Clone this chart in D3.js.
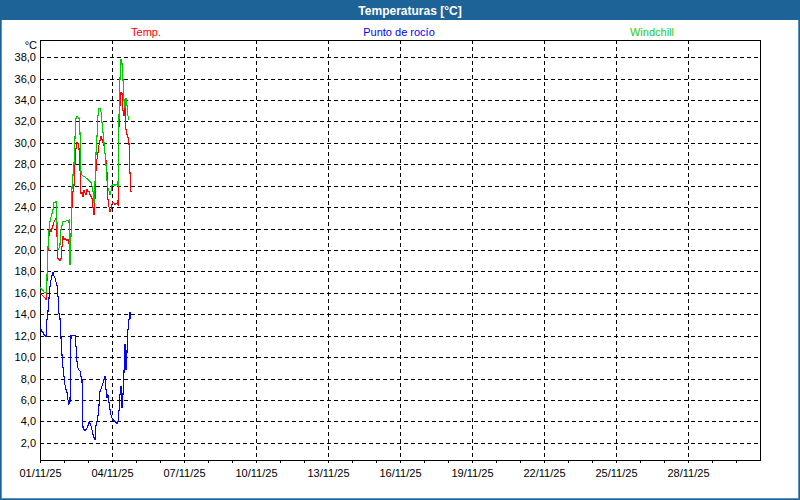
<!DOCTYPE html>
<html>
<head>
<meta charset="utf-8">
<script src="https://cdn.jsdelivr.net/npm/d3@7"></script>
<style>
  html, body { margin: 0; padding: 0; background: #fff; }
  svg { display: block; }
  text { font-family: "Liberation Sans", Arial, sans-serif; }
</style>
</head>
<body>
<svg id="chart" width="800" height="500"></svg>
<script>
// ---- data (hourly readings starting 01/11/25 00:00) ----
const startTime = new Date(2025, 10, 1, 0, 0);
const tempValues = [
  16.0, 15.9, 15.8, 15.7, 15.6, 15.5, 15.4, 17.2, 20.0, 21.4,
  21.9, 21.7, 22.0, 22.3, 22.6, 22.8, 23.0, 21.4, 19.2, 19.1,
  19.0, 19.2, 20.3, 21.3, 21.0, 21.1, 21.0, 20.9, 21.0, 20.7,
  18.6, 21.3, 24.0, 25.5, 26.0, 28.0, 29.5, 30.0, 30.0, 29.5,
  27.5, 25.2, 25.4, 25.0, 25.6, 25.3, 25.2, 25.7, 25.4, 25.5,
  25.2, 25.0, 24.8, 24.0, 23.3, 24.8, 27.5, 28.5, 29.1, 29.8,
  30.2, 30.6, 30.3, 30.0, 29.7, 29.0, 28.4, 27.2, 24.7, 24.0,
  23.6, 23.8, 24.3, 24.5, 24.4, 24.2, 24.4, 24.3, 24.2, 31.8,
  33.5, 34.7, 34.6, 33.0, 32.5, 34.0, 31.2, 30.8, 30.5, 30.0,
  27.2, 25.4
];
const dewValues = [
  12.8, 12.6, 12.4, 12.3, 12.1, 12.0, 11.9, 13.5, 14.3, 15.5,
  16.6, 17.2, 17.6, 17.9, 17.6, 17.4, 17.0, 16.7, 15.7, 14.1,
  13.6, 11.8, 10.2, 9.0, 8.2, 7.4, 7.0, 6.7, 6.0, 5.6,
  5.8, 12.0, 12.0, 12.0, 12.0, 12.0, 11.0, 9.6, 9.0, 8.8,
  8.7, 8.2, 7.9, 3.4, 3.2, 3.2, 3.2, 3.4, 3.6, 3.9,
  3.8, 3.6, 3.2, 2.8, 2.5, 2.3, 3.6, 4.0, 4.5, 5.5,
  6.8, 7.0, 7.3, 7.6, 7.9, 8.2, 7.0, 6.2, 6.5, 5.8,
  5.1, 4.6, 4.3, 4.2, 4.1, 4.0, 3.9, 3.8, 4.0, 5.0,
  6.5, 7.3, 5.3, 6.5, 8.6, 11.2, 8.8, 10.5, 12.6, 13.5,
  14.2, 13.6
];
const windchillValues = [
  16.5, 16.4, 16.3, 16.2, 16.1, 16.0, 16.0, 17.5, 20.3, 21.8,
  22.7, 23.1, 23.4, 23.8, 24.4, 24.4, 24.5, 22.5, 20.0, 20.2,
  20.5, 21.9, 22.3, 22.7, 22.6, 22.7, 22.7, 22.8, 22.7, 22.8,
  18.6, 21.3, 25.9, 27.0, 28.0, 30.5, 32.3, 32.5, 32.4, 32.3,
  31.0, 27.2, 27.0, 26.9, 26.9, 26.8, 26.7, 26.7, 26.6, 26.5,
  26.4, 26.3, 26.0, 25.5, 24.4, 26.2, 29.0, 30.6, 32.6, 33.2,
  33.2, 32.9, 31.9, 31.0, 30.0, 29.0, 28.0, 26.5, 25.8, 25.5,
  25.2, 25.5, 26.0, 26.1, 26.1, 26.0, 26.1, 26.1, 26.0, 32.5,
  36.0, 37.8, 37.4, 35.9, 34.0, 33.3, 34.2, 33.5, 32.5, 32.1
];
const seriesNames = ["Temp.", "Punto de rocío", "Windchill"];
const yTickValues = [2, 4, 6, 8, 10, 12, 14, 16, 18, 20, 22, 24, 26, 28, 30, 32, 34, 36, 38];
const xLabelDays = [1, 4, 7, 10, 13, 16, 19, 22, 25, 28];
const titleText = "Temperaturas [°C]";
const unitText = "°C";

// ---- layout ----
const W = 800, H = 500;
const plot = { left: 40, right: 760, top: 40, bottom: 460 };
const colors = { temp: "#ff0000", dew: "#0000ff", wind: "#00c800" };

const svg = d3.select("#chart");

// frame / title bar
svg.append("rect").attr("x", 0).attr("y", 0).attr("width", W).attr("height", H).attr("fill", "#fff");
svg.append("rect").attr("x", 0.5).attr("y", 0.5).attr("width", W - 1).attr("height", H - 1)
  .attr("fill", "none").attr("stroke", "#1e6398").attr("stroke-width", 1);
svg.append("rect").attr("x", 1.5).attr("y", 1.5).attr("width", W - 3).attr("height", H - 3)
  .attr("fill", "none").attr("stroke", "#5a8fbf").attr("stroke-width", 1);
svg.append("rect").attr("x", 0).attr("y", 0).attr("width", W).attr("height", 20).attr("fill", "#1e6398");
svg.append("text").attr("x", 410).attr("y", 15).attr("text-anchor", "middle")
  .attr("fill", "#fff").attr("font-weight", "bold").attr("font-size", 12).text(titleText);

// scales
const x = d3.scaleTime()
  .domain([new Date(2025, 10, 1), new Date(2025, 11, 1)])
  .range([plot.left, plot.right]);
const y = d3.scaleLinear().domain([0.4, 39.6]).range([plot.bottom, plot.top]);

// grid
const grid = svg.append("g").attr("shape-rendering", "crispEdges");
grid.selectAll("line.h").data(yTickValues).enter().append("line")
  .attr("x1", plot.left).attr("x2", plot.right)
  .attr("y1", d => Math.round(y(d)) + 0.5).attr("y2", d => Math.round(y(d)) + 0.5)
  .attr("stroke", "#000").attr("stroke-dasharray", "4,3");
const vDays = xLabelDays.filter(d => d > 1).map(d => new Date(2025, 10, d));
grid.selectAll("line.v").data(vDays).enter().append("line")
  .attr("y1", plot.top).attr("y2", plot.bottom)
  .attr("x1", d => Math.round(x(d)) + 0.5).attr("x2", d => Math.round(x(d)) + 0.5)
  .attr("stroke", "#000").attr("stroke-dasharray", "4,3");

// axes
const yAxis = d3.axisLeft(y).tickValues(yTickValues).tickSize(0).tickPadding(4)
  .tickFormat(d => d.toFixed(1).replace(".", ","));
const gy = svg.append("g").attr("transform", `translate(${plot.left},0)`).call(yAxis);
gy.select(".domain").remove();
gy.selectAll("text").attr("font-size", 11).attr("fill", "#000")
  .attr("font-family", '"Liberation Sans", Arial, sans-serif');

const allDays = d3.timeDay.range(new Date(2025, 10, 1), new Date(2025, 11, 1));
const xAxis = d3.axisBottom(x).tickValues(allDays).tickSize(3).tickPadding(6)
  .tickFormat(d => xLabelDays.includes(d.getDate()) && d.getMonth() === 10 ? d3.timeFormat("%d/%m/%y")(d) : "");
const gx = svg.append("g").attr("transform", `translate(0,${plot.bottom})`).call(xAxis);
gx.select(".domain").remove();
gx.selectAll("line").attr("stroke", "#000").attr("shape-rendering", "crispEdges");
gx.selectAll("text").attr("font-size", 11).attr("fill", "#000")
  .attr("font-family", '"Liberation Sans", Arial, sans-serif');

// plot border
svg.append("rect").attr("x", plot.left + 0.5).attr("y", plot.top + 0.5)
  .attr("width", plot.right - plot.left).attr("height", plot.bottom - plot.top)
  .attr("fill", "none").attr("stroke", "#000").attr("shape-rendering", "crispEdges");

// unit label
svg.append("text").attr("x", 37).attr("y", 49).attr("text-anchor", "end")
  .attr("font-size", 11).attr("fill", "#000").text(unitText);

// series
const toPoints = vals => vals.map((v, i) => ({ t: d3.timeHour.offset(startTime, i), v }));
const line = d3.line().x(d => x(d.t)).y(d => y(d.v));
const series = [
  { vals: tempValues, color: colors.temp },
  { vals: dewValues, color: colors.dew },
  { vals: windchillValues, color: colors.wind }
];
svg.append("g").selectAll("path").data(series).enter().append("path")
  .attr("d", s => line(toPoints(s.vals)))
  .attr("fill", "none").attr("stroke", s => s.color).attr("stroke-width", 1.1)
  .attr("shape-rendering", "crispEdges");

// legend
const legendX = [146, 399, 652];
const legendColors = [colors.temp, colors.dew, "#22cc22"];
svg.append("g").selectAll("text").data(seriesNames).enter().append("text")
  .attr("x", (d, i) => legendX[i]).attr("y", 36).attr("text-anchor", "middle")
  .attr("font-size", 11).attr("fill", (d, i) => legendColors[i]).text(d => d);
</script>
</body>
</html>
